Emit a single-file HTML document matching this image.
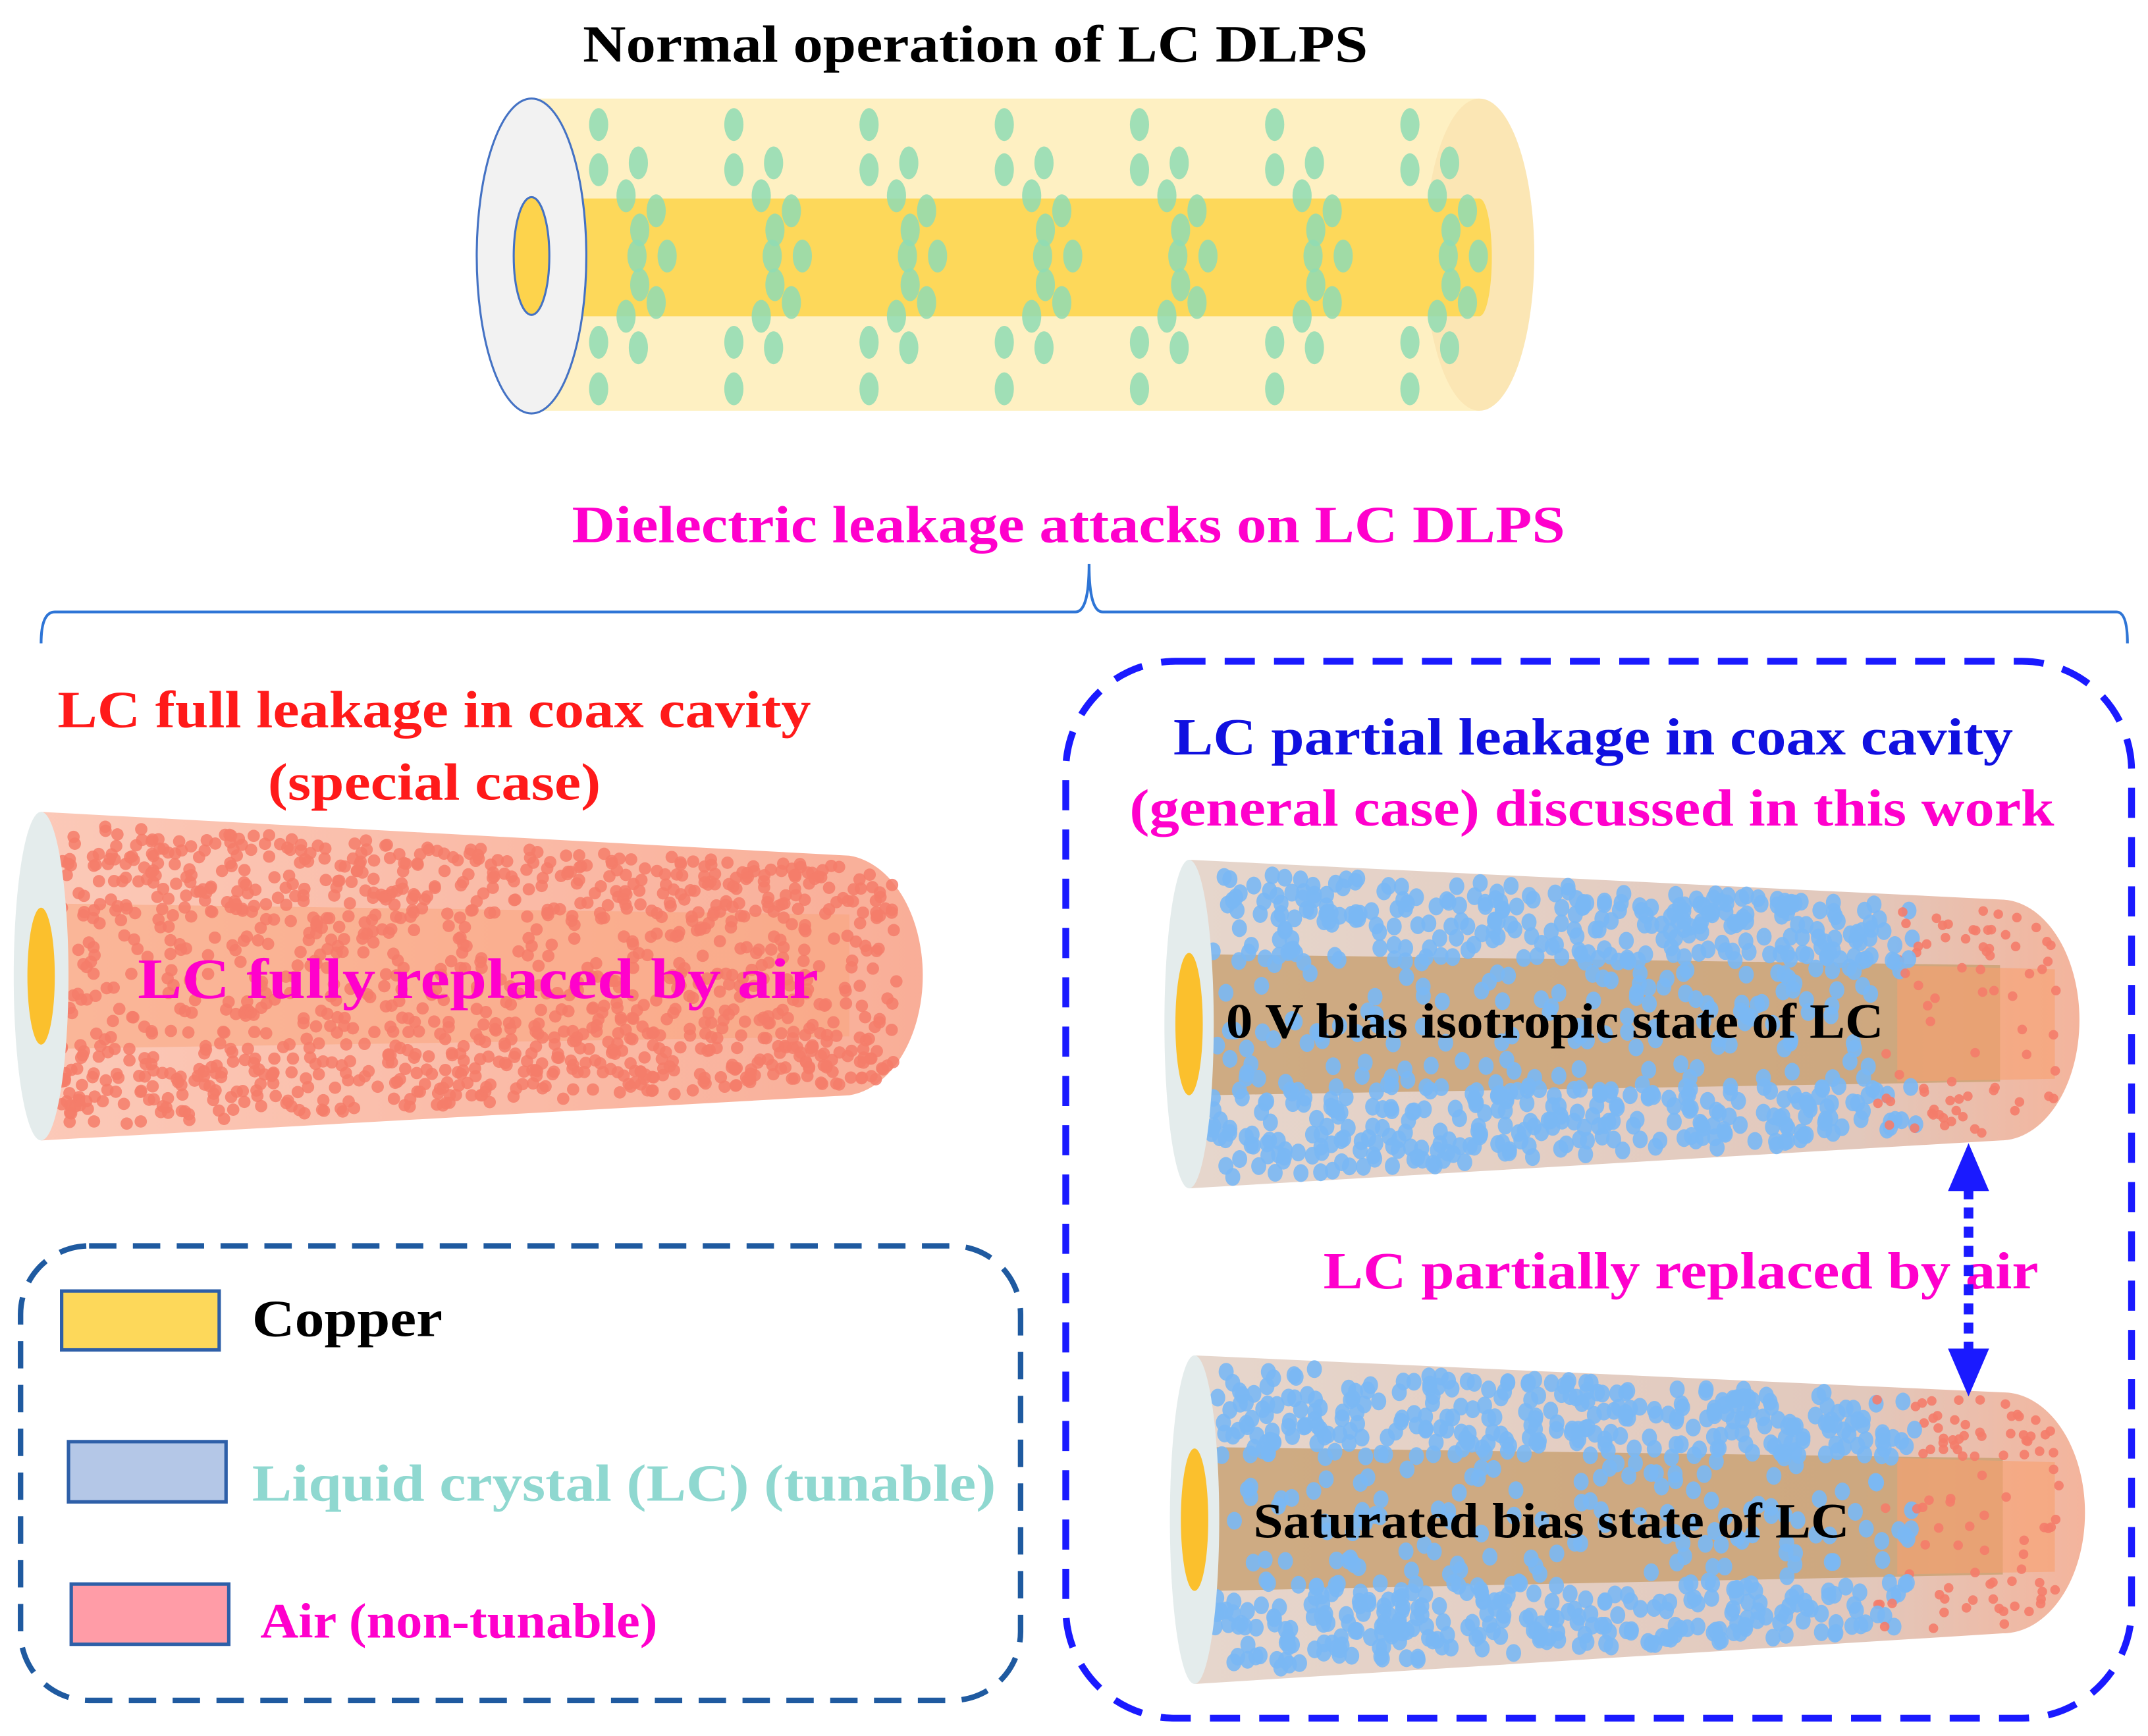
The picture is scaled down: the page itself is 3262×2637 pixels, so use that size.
<!DOCTYPE html>
<html><head><meta charset="utf-8"><style>
html,body{margin:0;padding:0;background:#fff;}
svg{display:block;}
text{font-family:"Liberation Serif",serif;font-weight:bold;}
</style></head><body>
<svg id="s" width="3262" height="2637" viewBox="0 0 1568 1268" preserveAspectRatio="none" xmlns="http://www.w3.org/2000/svg">
<defs>
<linearGradient id="air" x1="0" y1="0" x2="1" y2="0"><stop offset="0" stop-color="#fbc3b0"/><stop offset="1" stop-color="#f8a58c"/></linearGradient>
<linearGradient id="tan" x1="0" y1="0" x2="1" y2="0"><stop offset="0" stop-color="#e6d6cc"/><stop offset="0.75" stop-color="#e2c8bc"/><stop offset="1" stop-color="#f4b49c"/></linearGradient>
</defs>
<text x="712" y="45" font-size="38" text-anchor="middle" fill="#000" textLength="573" lengthAdjust="spacingAndGlyphs">Normal operation of LC DLPS</text>
<!-- top cylinder -->
<rect x="388" y="72" width="692" height="228" fill="#fef0c2"/>
<ellipse cx="1080" cy="186" rx="40" ry="114" fill="#fbe6b4"/>
<rect x="400" y="145" width="680" height="86" fill="#fdd85a"/>
<ellipse cx="1080" cy="188" rx="9" ry="43" fill="#fdd85a"/>
<g id="gdots"></g>
<ellipse cx="388" cy="187" rx="40" ry="115" fill="#f2f2f2" stroke="#4472c4" stroke-width="1.5"/>
<ellipse cx="388" cy="187" rx="13" ry="43" fill="#fdd34c" stroke="#4472c4" stroke-width="1.5"/>
<text x="780" y="396" font-size="38" text-anchor="middle" fill="#ff00cc" textLength="725" lengthAdjust="spacingAndGlyphs">Dielectric leakage attacks on LC DLPS</text>
<path d="M30 470 Q30 447 40 447 L785 447 Q795 447 795 412 Q795 447 805 447 L1545 447 Q1553 447 1553 470" fill="none" stroke="#2e75d6" stroke-width="2"/>
<!-- left -->
<text x="317" y="531" font-size="38" text-anchor="middle" fill="#ff1a1a" textLength="550" lengthAdjust="spacingAndGlyphs">LC full leakage in coax cavity</text>
<text x="317" y="584" font-size="38" text-anchor="middle" fill="#ff1a1a" textLength="243" lengthAdjust="spacingAndGlyphs">(special case)</text>
<path d="M30 593 L620 625 A60 88 0 0 1 620 800 L30 833 Z" fill="url(#air)" opacity="0.9"/>
<path d="M40 660 L620 668 L620 757 L40 766 Z" fill="#f9a47a" opacity="0.5"/>
<g id="rdots1"></g>
<ellipse cx="30" cy="713" rx="20" ry="120" fill="#e4ecec"/>
<ellipse cx="30" cy="713" rx="10" ry="50" fill="#fbc02d"/>
<text x="349" y="729" font-size="42" text-anchor="middle" fill="#ff00cc" textLength="497" lengthAdjust="spacingAndGlyphs">LC fully replaced by air</text>
<!-- legend -->
<rect x="15" y="910" width="730" height="332" rx="50" fill="none" stroke="#1f5aa0" stroke-width="4" stroke-dasharray="20 12"/>
<rect x="45" y="943" width="115" height="43" fill="#fdd85a" stroke="#2e5fa8" stroke-width="2.5"/>
<text x="184" y="976" font-size="38" fill="#000" textLength="139" lengthAdjust="spacingAndGlyphs">Copper</text>
<rect x="50" y="1053" width="115" height="44" fill="#b4c7e7" stroke="#2e5fa8" stroke-width="2.5"/>
<text x="184" y="1096" font-size="38" fill="#8fd8d0" textLength="543" lengthAdjust="spacingAndGlyphs">Liquid crystal (LC) (tunable)</text>
<rect x="52" y="1157" width="115" height="44" fill="#ff9ca7" stroke="#2e5fa8" stroke-width="2.5"/>
<text x="190" y="1196" font-size="36" fill="#ff00cc" textLength="290" lengthAdjust="spacingAndGlyphs">Air (non-tunable)</text>
<!-- right -->
<rect x="778" y="483" width="778" height="772" rx="80" fill="none" stroke="#1a1aff" stroke-width="5" stroke-dasharray="22 14"/>
<text x="1163" y="551" font-size="38" text-anchor="middle" fill="#1010e0" textLength="613" lengthAdjust="spacingAndGlyphs">LC partial leakage in coax cavity</text>
<text x="1162" y="603" font-size="38" text-anchor="middle" fill="#ff00cc" textLength="675" lengthAdjust="spacingAndGlyphs">(general case) discussed in this work</text>
<g id="cyl1">
<path d="M868 628 L1460 657 A58 88 0 0 1 1460 833 L868 868 Z" fill="url(#tan)"/>
<path d="M880 697 L1460 705 L1460 790 L880 800 Z" fill="#c8a070" opacity="0.8"/>
<path d="M1385 705 L1500 708 L1500 788 L1385 790 Z" fill="#f9a070" opacity="0.6"/>
<g id="bd1"></g>
<ellipse cx="868" cy="748" rx="18" ry="120" fill="#e4ecec"/>
<ellipse cx="868" cy="748" rx="10" ry="52" fill="#fbc02d"/>
<text x="895" y="758" font-size="36" fill="#000" textLength="480" lengthAdjust="spacingAndGlyphs">0 V bias isotropic state of LC</text>
</g>
<g id="cyl2">
<path d="M872 990 L1462 1017 A60 88 0 0 1 1462 1193 L872 1230 Z" fill="url(#tan)"/>
<path d="M885 1057 L1462 1065 L1462 1150 L885 1162 Z" fill="#c8a070" opacity="0.8"/>
<path d="M1385 1065 L1500 1068 L1500 1148 L1385 1150 Z" fill="#f9a070" opacity="0.6"/>
<g id="bd2"></g>
<ellipse cx="872" cy="1110" rx="18" ry="120" fill="#e4ecec"/>
<ellipse cx="872" cy="1110" rx="10" ry="52" fill="#fbc02d"/>
<text x="915" y="1123" font-size="36" fill="#000" textLength="435" lengthAdjust="spacingAndGlyphs">Saturated bias state of LC</text>
</g>
<text x="1227" y="941" font-size="38" text-anchor="middle" fill="#ff00cc" textLength="522" lengthAdjust="spacingAndGlyphs">LC partially replaced by air</text>
<line x1="1437" y1="868" x2="1437" y2="988" stroke="#1a1aff" stroke-width="7" stroke-dasharray="8 6"/>
<polygon points="1437,835 1422,870 1452,870" fill="#1a1aff"/>
<polygon points="1437,1020 1422,985 1452,985" fill="#1a1aff"/>
</svg>
<script>
(function(){
var ns="http://www.w3.org/2000/svg";
var seed=7;function r(){seed=(seed*16807)%2147483647;return seed/2147483647;}
function el(g,cx,cy,rx,ry,f,o){var e=document.createElementNS(ns,"ellipse");e.setAttribute("cx",cx);e.setAttribute("cy",cy);e.setAttribute("rx",rx);e.setAttribute("ry",ry);e.setAttribute("fill",f);if(o)e.setAttribute("opacity",o);g.appendChild(e);}
var g=document.getElementById("gdots");
var pat=[[0,-96],[0,-63],[29,-68],[20,-44],[42,-33],[30,-19],[28,0],[50,0],[30,21],[42,34],[20,44],[0,63],[29,67],[0,97]];
for(var k=0;k<7;k++){var x0=437+98.7*k;for(var i=0;i<pat.length;i++)el(g,x0+pat[i][0],187+pat[i][1],7,12,"#8fdcb4","0.85");}
var g1=document.getElementById("rdots1");
for(var i=0;i<1500;i++){var x=45+r()*610;var t=(x-30)/590;var tp=593+32*t,bt=833-33*t;var y=tp+8+r()*(bt-tp-16);if(x>620){var dx=(x-620)/60;var h=88*Math.sqrt(Math.max(0,1-dx*dx));if(Math.abs(y-713)>h-6)continue;}
if(Math.abs(y-713)<40&&r()<0.5)continue;el(g1,x,y,4.5,4.5,"#f47c6a","0.85");}
function partial(id,fx,cy,ty,by,ey){var gg=document.getElementById(id);
for(var i=0;i<1300;i++){var x=fx+15+r()*620;var t=(x-fx)/590;var tp=ty+(ey-88-ty)*t,bt=by-(by-ey-88)*t;var y=tp+6+r()*(bt-tp-12);
if(x>1460){var dx=(x-1460)/58;var h=88*Math.sqrt(Math.max(0,1-dx*dx));if(Math.abs(y-ey)>h-6)continue;}
if(Math.abs(y-cy)<45&&r()<0.7)continue;
var blue=x<1370||(x<1400&&r()<0.5);
if(blue)el(gg,x,y,5.5,6.5,"#7ab8f4","0.9");else if(r()<0.6)el(gg,x,y,3.5,3.5,"#f47c6a","0.9");}}
partial("bd1",868,748,628,868,745);
partial("bd2",872,1110,990,1230,1105);
})();
</script>
</body></html>
